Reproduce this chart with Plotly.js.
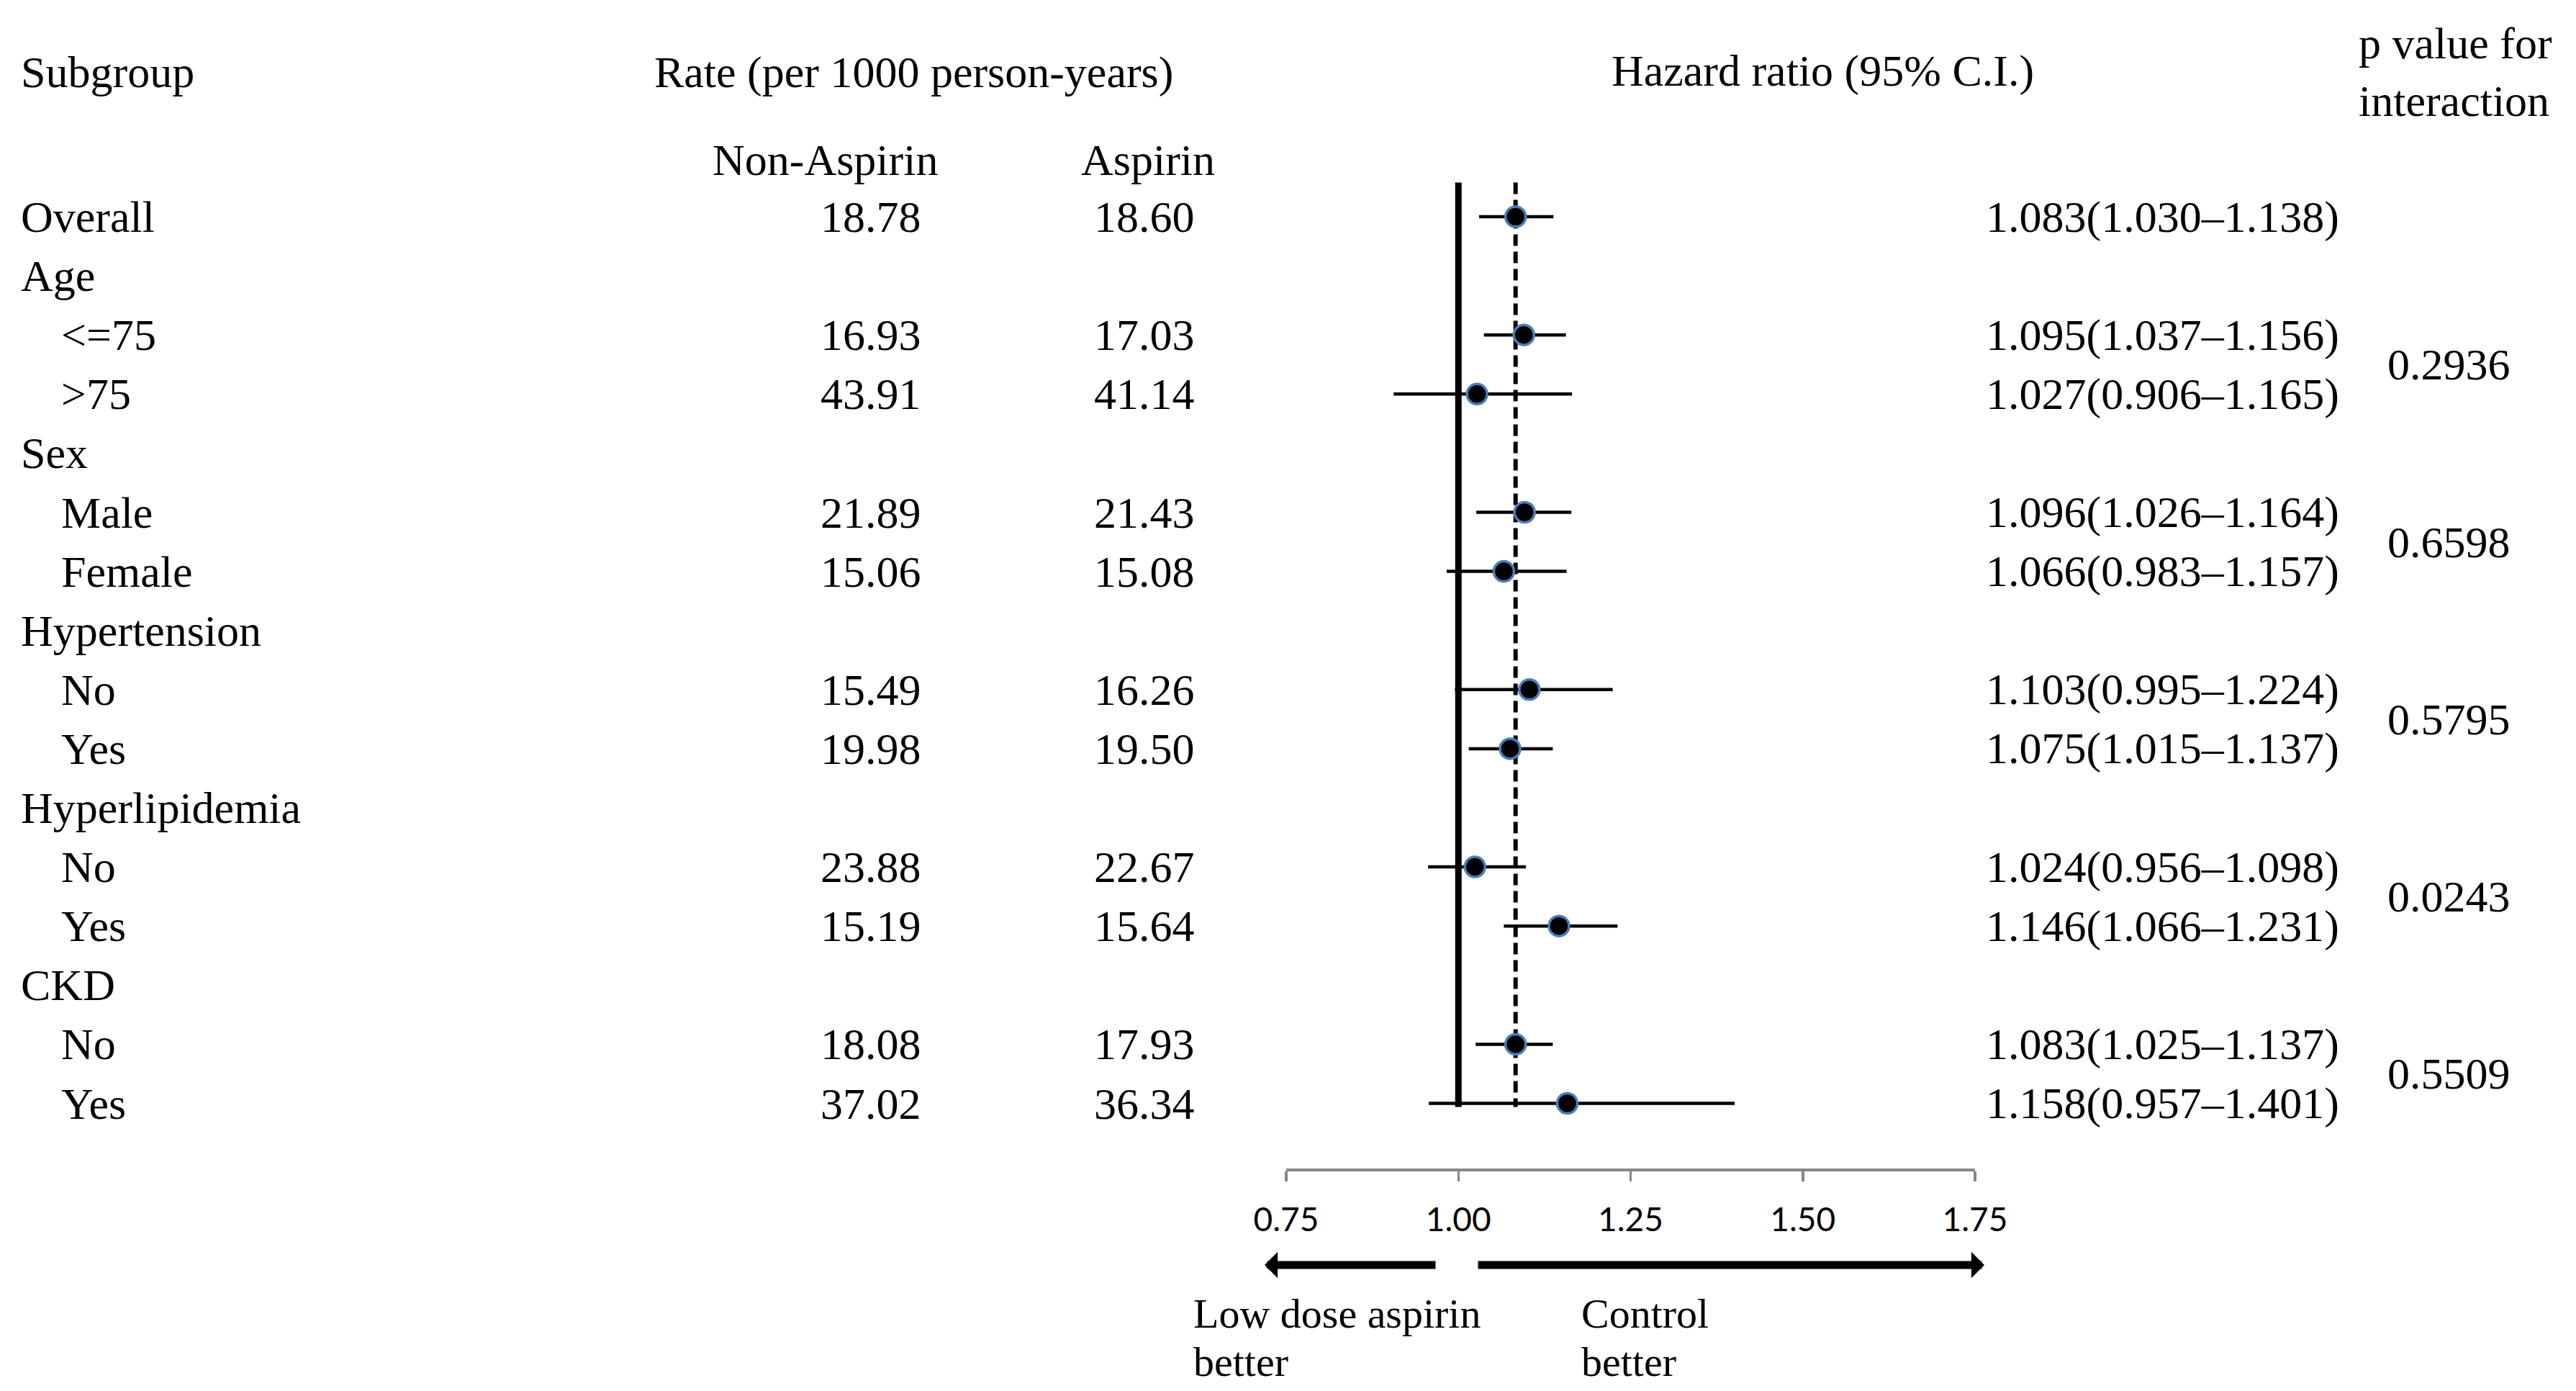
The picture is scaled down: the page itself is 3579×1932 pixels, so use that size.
<!DOCTYPE html>
<html>
<head>
<meta charset="utf-8">
<script src="https://cdn.plot.ly/plotly-3.0.1.min.js"></script>
<style>html,body{margin:0;padding:0;background:#fff;}#chart{width:3579px;height:1932px;}</style>
</head>
<body>
<div id="chart"></div>
<script>
// ---- data ----
const rowLabels = ["Overall","Age","<=75",">75","Sex","Male","Female","Hypertension","No","Yes","Hyperlipidemia","No","Yes","CKD","No","Yes"];
const rowLevel  = [0,0,1,1,0,1,1,0,1,1,0,1,1,0,1,1];
const rateNonAspirin = [18.78,null,16.93,43.91,null,21.89,15.06,null,15.49,19.98,null,23.88,15.19,null,18.08,37.02];
const rateAspirin    = [18.60,null,17.03,41.14,null,21.43,15.08,null,16.26,19.50,null,22.67,15.64,null,17.93,36.34];
const hazardRatio = [1.083,null,1.095,1.027,null,1.096,1.066,null,1.103,1.075,null,1.024,1.146,null,1.083,1.158];
const ciLower     = [1.030,null,1.037,0.906,null,1.026,0.983,null,0.995,1.015,null,0.956,1.066,null,1.025,0.957];
const ciUpper     = [1.138,null,1.156,1.165,null,1.164,1.157,null,1.224,1.137,null,1.098,1.231,null,1.137,1.401];
const interactionGroups = ["Age","Sex","Hypertension","Hyperlipidemia","CKD"];
const interactionP = ["0.2936","0.6598","0.5795","0.0243","0.5509"];
const xTicks = [0.75,1.00,1.25,1.50,1.75];

// ---- layout helpers ----
const W = 3579, H = 1932;
const px = v => v / W;
const py = v => 1 - v / H;
const serif = "Liberation Serif, Times New Roman, serif";
const FS = 62;

const rows = rowLabels.map((_, i) => i);
const xs = [], ys = [], ep = [], em = [];
rows.forEach(i => {
  if (hazardRatio[i] != null) {
    xs.push(hazardRatio[i]); ys.push(i);
    ep.push(ciUpper[i] - hazardRatio[i]);
    em.push(hazardRatio[i] - ciLower[i]);
  }
});

const trace = {
  type: "scatter", mode: "markers", x: xs, y: ys,
  marker: {symbol: "circle", size: 28, color: "#000", line: {color: "#4a7ebb", width: 3.5}},
  error_x: {type: "data", symmetric: false, array: ep, arrayminus: em, color: "#000", thickness: 4.5, width: 0},
  hoverinfo: "skip", showlegend: false, cliponaxis: false
};

const ann = [];
const T = (text, x, y, xanchor, opts) => Object.assign({
  text, x, y, xref: "paper", yref: "y", xanchor, yanchor: "middle",
  showarrow: false, font: {family: serif, size: FS, color: "#000"}, align: "left"
}, opts || {});

rows.forEach(i => {
  ann.push(T(rowLabels[i], px(rowLevel[i] ? 83 : 27), i, "left"));
  if (rateNonAspirin[i] != null) ann.push(T(rateNonAspirin[i].toFixed(2), px(1282), i, "right"));
  if (rateAspirin[i] != null) ann.push(T(rateAspirin[i].toFixed(2), px(1662), i, "right"));
  if (hazardRatio[i] != null) ann.push(T(hazardRatio[i].toFixed(3) + "(" + ciLower[i].toFixed(3) + "\u2013" + ciUpper[i].toFixed(3) + ")", px(2757), i, "left"));
});
interactionGroups.forEach((g, k) => {
  const gi = rowLabels.indexOf(g);
  ann.push(T(interactionP[k], px(3315), gi + 1.5, "left"));
});

// headers
const P = (text, x, y, xanchor, size) => ({text, x: px(x), y: py(y), xref: "paper", yref: "paper", xanchor, yanchor: "middle", showarrow: false, font: {family: serif, size: size || FS, color: "#000"}, align: "left"});
ann.push(P("Subgroup", 27, 100, "left"));
ann.push(P("Rate (per 1000 person-years)", 907, 100, "left"));
ann.push(P("Hazard ratio (95% C.I.)", 2237, 98, "left"));
ann.push(P("p value for", 3275, 60, "left"));
ann.push(P("interaction", 3275, 140, "left"));
ann.push(P("Non-Aspirin", 988, 222, "left"));
ann.push(P("Aspirin", 1500, 222, "left"));
ann.push(P("Low dose aspirin", 1656, 1824, "left", 58));
ann.push(P("better", 1656, 1891, "left", 58));
ann.push(P("Control", 2195, 1824, "left", 58));
ann.push(P("better", 2195, 1891, "left", 58));

// direction arrows
ann.push({text: "", xref: "paper", yref: "paper", x: px(1757), y: py(1757), ax: 1996 - 1757, ay: 0,
  showarrow: true, arrowhead: 1, arrowsize: 0.55, arrowwidth: 11, arrowcolor: "#000"});
ann.push({text: "", xref: "paper", yref: "paper", x: px(2757), y: py(1757), ax: 2052 - 2757, ay: 0,
  showarrow: true, arrowhead: 1, arrowsize: 0.55, arrowwidth: 11, arrowcolor: "#000"});

const rowTop = 301, rowStep = 82.1, axisY = 1623;
const layout = {
  width: W, height: H,
  margin: {l: 0, r: 0, t: 0, b: 0},
  paper_bgcolor: "#fff", plot_bgcolor: "rgba(0,0,0,0)",
  showlegend: false,
  xaxis: {
    domain: [px(1787), px(2744)], range: [0.75, 1.75],
    tickvals: xTicks, ticktext: xTicks.map(v => v.toFixed(2)),
    showgrid: false, zeroline: false, showline: true, linecolor: "#878787", linewidth: 3.5,
    ticks: "outside", ticklen: 14, tickwidth: 3.5, tickcolor: "#878787",
    tickfont: {family: "Lato, Carlito, sans-serif", size: 46, color: "#000"},
    ticklabelstandoff: 14, fixedrange: true
  },
  yaxis: {
    domain: [1 - axisY / H, 1],
    range: [(axisY - rowTop) / rowStep, -rowTop / rowStep],
    visible: false, showgrid: false, zeroline: false, fixedrange: true
  },
  shapes: [
    {type: "line", xref: "x", yref: "y", x0: 1, x1: 1, y0: -0.58, y1: 15.06, line: {color: "#000", width: 9}, layer: "below"},
    {type: "line", xref: "x", yref: "y", x0: hazardRatio[0], x1: hazardRatio[0], y0: -0.58, y1: 15.06, line: {color: "#000", width: 6, dash: "16px,8px"}, layer: "below"}
  ],
  annotations: ann
};

Plotly.newPlot("chart", [trace], layout, {staticPlot: true, displayModeBar: false});
</script>
</body>
</html>
